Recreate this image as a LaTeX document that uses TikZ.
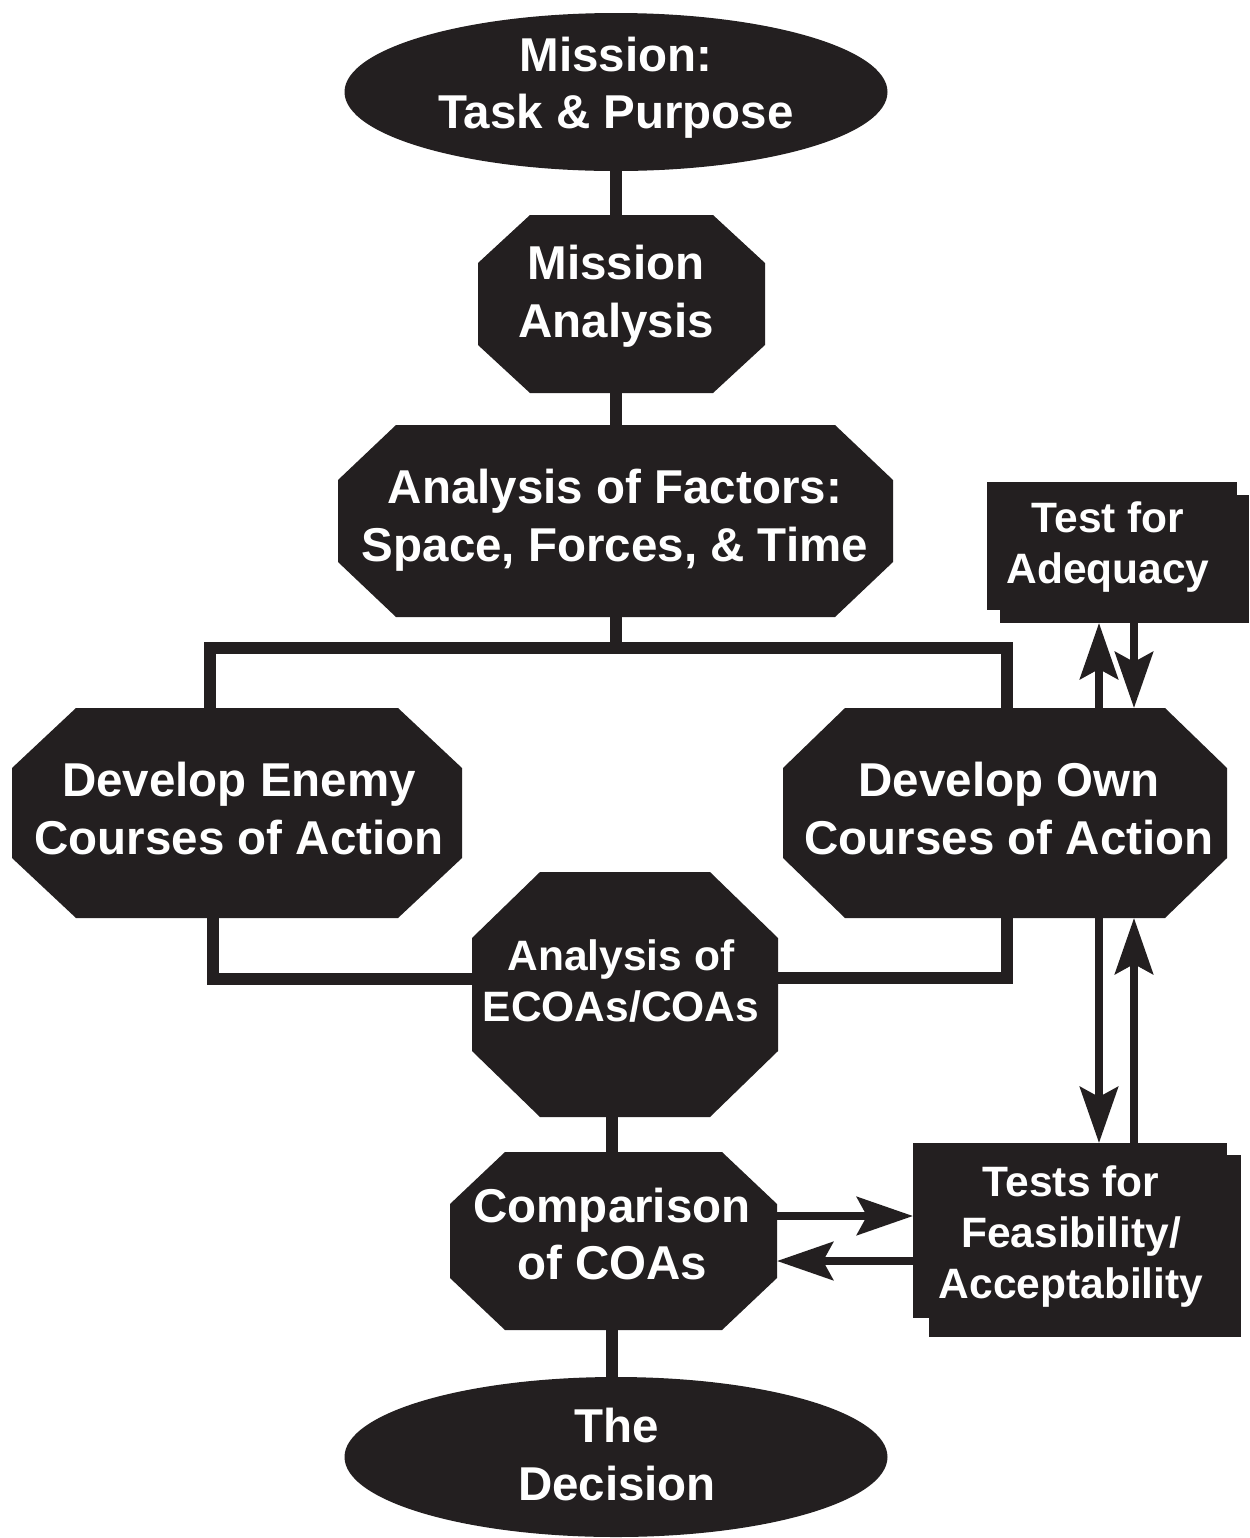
\documentclass[tikz,border=0pt]{standalone}
\usepackage{fontspec}
\setmainfont{Liberation Sans}
\usetikzlibrary{shapes.geometric,arrows.meta}
\definecolor{ink}{HTML}{231F20}
% #1 name, #2 cx, #3 cy, #4 half width, #5 half height, #6 chamfer x, #7 chamfer y (all in px)
\newcommand{\octo}[7]{%
  \fill[ink] ({#2-#4+#6},{#3-#5}) -- ({#2+#4-#6},{#3-#5}) -- ({#2+#4},{#3-#5+#7}) -- ({#2+#4},{#3+#5-#7}) -- ({#2+#4-#6},{#3+#5}) -- ({#2-#4+#6},{#3+#5}) -- ({#2-#4},{#3+#5-#7}) -- ({#2-#4},{#3-#5+#7}) -- cycle;
  \node[frame, minimum width=#4pt, minimum height=#5pt] (#1) at (#2,#3) {};
}
\begin{document}
\begin{tikzpicture}[x=0.5pt,y=-0.5pt,
  frame/.style={rectangle, inner sep=0pt, outer sep=0pt},
  ell/.style={ellipse, fill=ink, inner sep=0pt, outer sep=0pt},
  boxfill/.style={rectangle, fill=ink, inner sep=0pt, outer sep=0pt},
  bigtxt/.style={text=white, font=\bfseries\fontsize{23.75pt}{28.75pt}\selectfont, align=center, inner sep=0pt},
  smalltxt/.style={text=white, font=\bfseries\fontsize{21.25pt}{25.5pt}\selectfont, align=center, inner sep=0pt},
  conn/.style={draw=ink, line width=6pt},
  arr/.style={draw=ink, line width=4pt, -{Stealth[length=28pt, width=19pt, inset=5pt]}}]
\fill[white] (0,0) rectangle (1249,1538);
\useasboundingbox (0,0) rectangle (1249,1538);

% shapes
\node[ell, minimum width=271.5pt, minimum height=79pt] (mission) at (616,92) {};
\node[bigtxt] (mission-text) at (616,87.5) {Mission:\\Task \& Purpose};

\octo{ma}{621.5}{304}{143.5}{89}{52}{48}
\node[bigtxt] (ma-text) at (616,296) {Mission\\Analysis};

\octo{af}{615.5}{521}{277.5}{96}{58}{55}
\node[bigtxt] (af-text) at (615,520) {Analysis of Factors:\\Space, Forces, \& Time};

\octo{enemy}{237}{813}{225}{105}{64}{60}
\node[bigtxt] (enemy-text) at (239,808.5) {Develop Enemy\\Courses of Action};

\octo{own}{1005}{813}{222}{105}{62}{60}
\node[bigtxt] (own-text) at (1009,808.5) {Develop Own\\Courses of Action};

\octo{ecoa}{625}{994.5}{153}{122.5}{68}{66}
\node[smalltxt] (ecoa-text) at (621,981) {Analysis of\\ECOAs/COAs};

\octo{comp}{613.5}{1241}{163.5}{89}{55}{52}
\node[bigtxt] (comp-text) at (612,1234) {Comparison\\of COAs};

\node[ell, minimum width=271.5pt, minimum height=80pt] (dec) at (616,1457) {};
\node[bigtxt] (dec-text) at (617,1454.5) {The\\Decision};

\node[boxfill, minimum width=124.5pt, minimum height=64pt] (adqsh) at (1124.5,559) {};
\node[boxfill, minimum width=125pt, minimum height=64pt] (adq) at (1112,546) {};
\node[smalltxt] (adq-text) at (1108,547.5) {Test for\\Adequacy};

\node[boxfill, minimum width=156pt, minimum height=91pt] (feassh) at (1085,1246) {};
\node[boxfill, minimum width=157pt, minimum height=87.5pt] (feas) at (1070,1230.5) {};
\node[smalltxt] (feas-text) at (1071,1236.5) {Tests for\\Feasibility/\\Acceptability};

% helper coordinates
\coordinate (axis) at (616,0);
\coordinate (axisb) at (612,0);
\coordinate (bar) at (616,648);
\coordinate (barL) at (210,648);
\coordinate (barR) at (1007,648);
\coordinate (lowL) at (213,979);
\coordinate (lowR) at (1007,978);
\coordinate (xa) at (1099,0);
\coordinate (xb) at (1134,0);
\coordinate (ya) at (0,1216);
\coordinate (yb) at (0,1261);

% connectors
\draw[conn] (mission.south -| axis) -- (ma.north -| axis);
\draw[conn] (ma.south -| axis) -- (af.north -| axis);
\draw[conn] (af.south -| axis) -- (bar);
\draw[conn] (enemy.north -| barL) -- (barL) -- (barR) -- (own.north -| barR);
\draw[conn] (enemy.south -| lowL) -- (lowL) -- (ecoa.west |- lowL);
\draw[conn] (own.south -| lowR) -- (lowR) -- (ecoa.east |- lowR);
\draw[conn] (ecoa.south -| axisb) -- (comp.north -| axisb);
\draw[conn] (comp.south -| axisb) -- (dec.north -| axisb);

% arrows
\draw[arr] (own.north -| xa) -- (adqsh.south -| xa);
\draw[arr] (adqsh.south -| xb) -- (own.north -| xb);
\draw[arr] (own.south -| xa) -- (feas.north -| xa);
\draw[arr] (feas.north -| xb) -- (own.south -| xb);
\draw[arr] (comp.east |- ya) -- (feas.west |- ya);
\draw[arr] (feas.west |- yb) -- (comp.east |- yb);
\end{tikzpicture}
\end{document}
